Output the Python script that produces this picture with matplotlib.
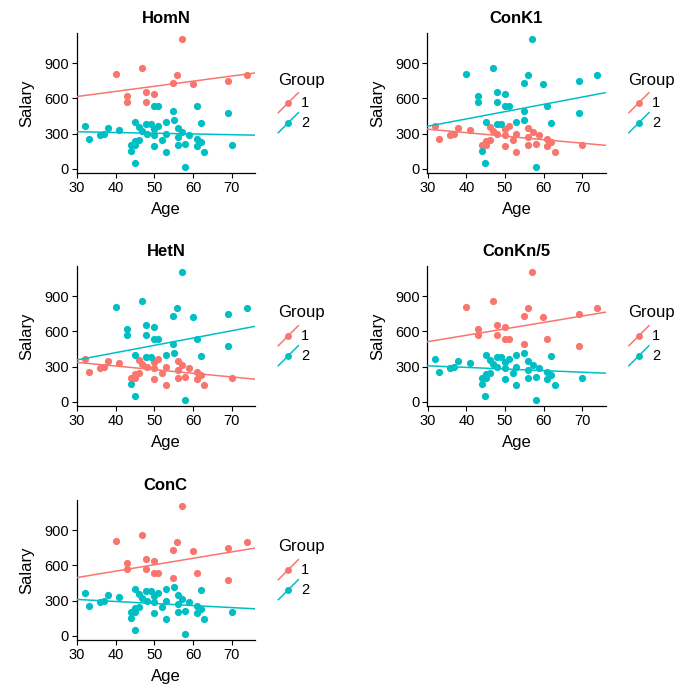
import numpy as np
import matplotlib
matplotlib.use("Agg")
import matplotlib.pyplot as plt
from matplotlib.lines import Line2D

plt.rcParams["font.family"] = ["Liberation Sans", "DejaVu Sans"]

RED = "#F8766D"
TEAL = "#00BFC4"

# employees: age and salary (same people in every panel)
age = [57.0, 46.8, 40.0, 55.9, 73.9, 69.0, 54.9, 59.9, 47.9, 50.0, 42.9, 42.9, 47.9,
       49.9, 50.9, 54.9, 60.9, 69.0,
       32.0, 33.0, 35.9, 36.9, 37.9, 40.9, 44.0, 44.9, 45.0, 44.0,
       45.0, 45.0, 46.1, 46.0, 46.8, 47.9, 49.0, 48.0, 50.0, 51.0,
       50.0, 50.0, 52.0, 52.9, 52.9, 52.9, 55.0, 56.0, 56.0, 57.1,
       56.0, 57.9, 57.9, 58.9, 60.9, 62.0, 60.9, 62.0, 62.9, 70.0]
salary = [1105, 861, 807, 801, 801, 749, 732, 723, 655, 640, 620, 568, 568,
          538, 532, 494, 540, 478,
          365, 258, 287, 293, 344, 333, 152, 50, 395, 200,
          205, 240, 245, 353, 324, 385, 385, 296, 338, 362,
          290, 195, 245, 402, 296, 140, 418, 344, 201, 317,
          273, 210, 18, 290, 250, 232, 192, 393, 146, 207]

# group of each employee in each panel
grp_homn = [1] * 13 + [2] * 5 + [2] * 40
grp_conk1 = [2] * 18 + [1, 1, 1, 1, 1, 1, 2, 2, 2, 1,
                        1, 1, 1, 1, 1, 2, 2, 1, 1, 1,
                        1, 1, 1, 2, 1, 1, 2, 1, 1, 1,
                        1, 1, 2, 1, 1, 1, 1, 2, 1, 1]
grp_hetn = list(grp_conk1)
grp_conkn5 = [1] * 18 + [2] * 40
grp_conc = list(grp_conkn5)

panels = ["HomN", "ConK1", "HetN", "ConKn/5", "ConC"]
groups = [grp_homn, grp_conk1, grp_hetn, grp_conkn5, grp_conc]

# model lines per panel: salary at age 30 and at age 76, group 1 then group 2
line_at30 = [(617, 316), (338, 363), (336, 357), (513, 307), (497, 310)]
line_at76 = [(818, 287), (200, 650), (193, 644), (765, 244), (749, 230)]

W = 700.0
# panel boxes in pixels
lefts = [76.7, 427.3]
tops = [33, 266, 500]
pw = 178.3
ph = 140

x = np.array(age)
y = np.array(salary)
xr = x.max() - x.min()
yr = y.max() - y.min()
xlim = (x.min() - 0.05 * xr, x.max() + 0.05 * xr)
ylim = (y.min() - 0.05 * yr, y.max() + 0.05 * yr)

fig = plt.figure(figsize=(7, 7), dpi=100)

for i, (name, grp) in enumerate(zip(panels, groups)):
    r, c = divmod(i, 2)
    l = lefts[c]
    t = tops[r]
    ax = fig.add_axes([l / W, 1 - (t + ph) / W, pw / W, ph / W])
    g = np.array(grp)
    xs = np.array(xlim)
    for j, (gv, col) in enumerate([(1, RED), (2, TEAL)]):
        m = g == gv
        ax.scatter(x[m], y[m], s=27, color=col, linewidths=0, zorder=2)
        a0, a1 = line_at30[i][j], line_at76[i][j]
        k = (a1 - a0) / (76 - 30)
        ax.plot(xs, a0 + k * (xs - 30), color=col, lw=1.1, zorder=3)
    ax.set_xlim(xlim)
    ax.set_ylim(ylim)
    ax.set_xticks([30, 40, 50, 60, 70])
    ax.set_yticks([0, 300, 600, 900])
    ax.tick_params(labelsize=10.5, length=3.5, width=0.8, pad=2)
    for s in ["top", "right"]:
        ax.spines[s].set_visible(False)
    for s in ["left", "bottom"]:
        ax.spines[s].set_linewidth(0.9)
    ax.set_xlabel("Age", fontsize=12, labelpad=5)
    ax.set_ylabel("Salary", fontsize=12, labelpad=7)
    ax.set_title(name, fontsize=12, fontweight="bold", pad=7)

    # legend drawn by hand (ggplot style diagonal keys)
    lx = l + pw + 23
    fig.text(lx / W, 1 - 80 / W - (t - 33) / W, "Group", fontsize=12,
             va="center", ha="left")
    for j, col in enumerate([RED, TEAL]):
        cy = 102.7 + 20 * j + (t - 33)
        cx = lx + 10.3
        fig.add_artist(Line2D([(cx - 10) / W, (cx + 10) / W],
                              [1 - (cy + 10) / W, 1 - (cy - 10) / W],
                              color=col, lw=1.1))
        fig.add_artist(Line2D([cx / W], [1 - cy / W], marker="o", ms=5,
                              color=col, markeredgewidth=0))
        fig.text((cx + 13) / W, 1 - cy / W, str(j + 1), fontsize=10.5,
                 va="center", ha="left")

fig.savefig("out.png", dpi=100)
